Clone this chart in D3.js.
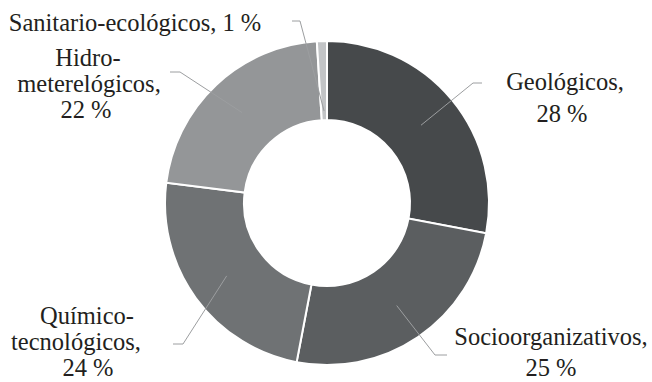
<!DOCTYPE html>
<html><head><meta charset="utf-8">
<script src="https://cdn.jsdelivr.net/npm/d3@7"></script>
<style>body{margin:0;background:#fff}svg{display:block}</style>
</head><body>
<svg id="chart" width="652" height="382"></svg>
<script>
const categories = ["Geológicos", "Socioorganizativos", "Químico-tecnológicos", "Hidro-meterelógicos", "Sanitario-ecológicos"];
const values = [28, 25, 24, 22, 1];
const colors = ["#46494b", "#5b5e60", "#6f7274", "#949698", "#c2c4c6"];
const labelLines = [
  ["Geológicos,", "28 %"],
  ["Socioorganizativos,", "25 %"],
  ["Químico-", "tecnológicos,", "24 %"],
  ["Hidro-", "meterelógicos,", "22 %"],
  ["Sanitario-ecológicos, 1 %"]
];

const svg = d3.select("#chart");
const cx = 327, cy = 203, R = 162, r = 83;
const g = svg.append("g").attr("transform", `translate(${cx},${cy})`);
const pie = d3.pie().sort(null).value(d => d)(values);
const arc = d3.arc().innerRadius(r).outerRadius(R);

g.selectAll("path.slice").data(pie).enter().append("path")
  .attr("class", "slice")
  .attr("d", arc)
  .attr("fill", (d, i) => colors[i])
  .attr("stroke", "#fff").attr("stroke-width", 2);

// leader lines: point inside slice (polar) -> elbow -> end
const leaders = [
  {rIn: 122, elbow: [146, -120], end: [155, -120]},
  {rIn: 124, elbow: [108, 152], end: [120, 152]},
  {rIn: 124, elbow: [-144, 141], end: [-154, 141]},
  {rIn: 124, elbow: [-147, -131], end: [-157, -131]},
  {rIn: 92, elbow: [-27, -182], end: [-35, -182]}
];
const line = d3.line();
pie.forEach((d, i) => {
  const a = (d.startAngle + d.endAngle) / 2;
  const L = leaders[i];
  const p0 = [Math.sin(a) * L.rIn, -Math.cos(a) * L.rIn];
  g.append("path").attr("d", line([p0, L.elbow, L.end]))
    .attr("fill", "none").attr("stroke", "#9c9ea0").attr("stroke-width", 1);
});

// labels: per-line centre x and baseline y
const labelPos = [
  [[565, 90], [562, 122]],
  [[551, 345], [551, 376]],
  [[87, 324], [76, 350], [88, 376]],
  [[88, 66], [89, 92], [86, 118]],
  [[135, 31]]
];
const lg = svg.append("g").attr("font-family", "Liberation Serif, serif").attr("font-size", 24.5).attr("fill", "#231f20");
labelLines.forEach((lines, i) => {
  const t = lg.append("text").attr("text-anchor", "middle");
  lines.forEach((s, j) => {
    t.append("tspan").attr("x", labelPos[i][j][0]).attr("y", labelPos[i][j][1]).text(s);
  });
});
</script>
</body></html>
